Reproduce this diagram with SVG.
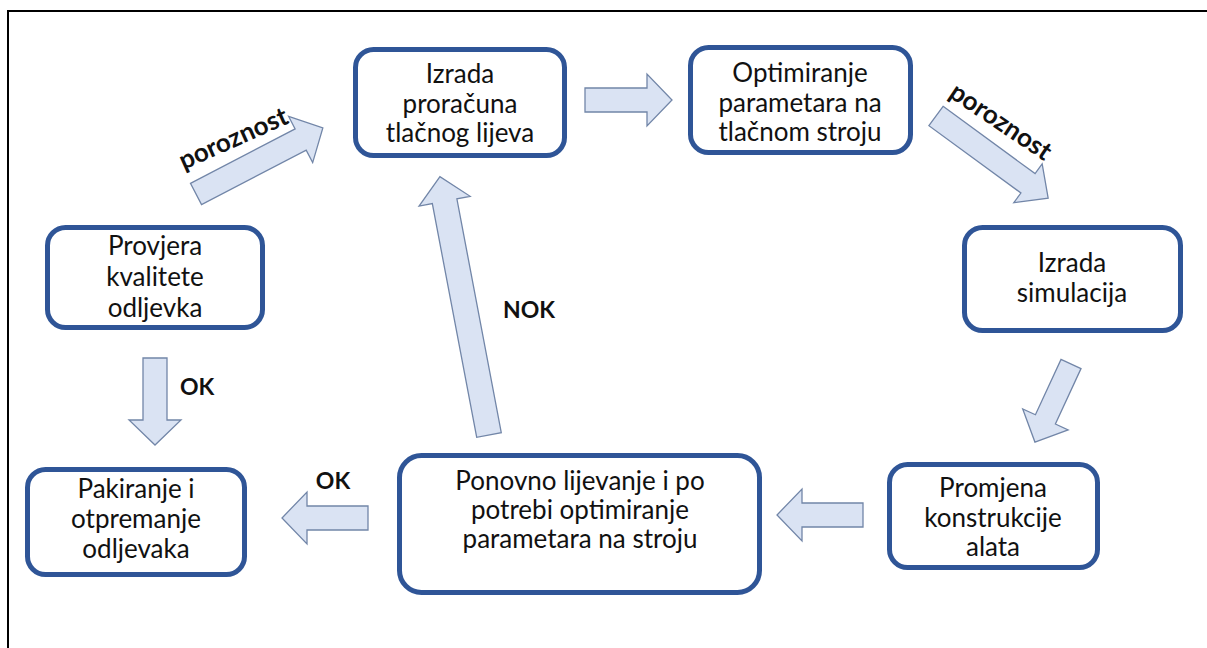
<svg xmlns="http://www.w3.org/2000/svg" width="1207" height="648" viewBox="0 0 1207 648">
<style>
.box{fill:#fff;stroke:#2F5597;stroke-width:5}
.t{font-family:Lato,"Liberation Sans",sans-serif;font-size:26px;fill:#111;text-anchor:middle}
.arr{fill:#DAE3F3;stroke:#7286A8;stroke-width:1.3;stroke-linejoin:miter}
.lb{font-family:Lato,"Liberation Sans",sans-serif;font-weight:bold;font-size:23px;fill:#111}
.pz{font-size:26px}
</style>
<rect x="0" y="0" width="1207" height="648" fill="#fff"/>
<path d="M8,648 V11 H1207" fill="none" stroke="#000" stroke-width="2"/>
<g id="connectors">
<polygon class="arr" points="0,-12 118,-12 118,-26 143,0 118,26 118,12 0,12" transform="translate(196,194) rotate(-27.5)"/>
<path class="arr" d="M585,88 H647 V74 L672,100 L647,126 V112 H585 Z"/>
<polygon class="arr" points="0,-12 114,-12 114,-24 139,0 114,24 114,12 0,12" transform="translate(936,116) rotate(36.2)"/>
<polygon class="arr" points="0,-11 61,-11 61,-25 86,0 61,25 61,11 0,11" transform="translate(1071,364) rotate(114.8)"/>
<path class="arr" d="M863,503 H802 V489 L777,515 L802,541 V527 H863 Z"/>
<path class="arr" d="M368,506 H307 V492 L282,518 L307,544 V530 H368 Z"/>
<path class="arr" d="M143,358 V420 H129 L155,445 L181,420 H167 V358 Z"/>
<polygon class="arr" points="0,-12.5 238,-12.5 238,-26 263,0 238,26 238,12.5 0,12.5" transform="translate(489,435) rotate(-100.75)"/>
<text class="lb pz" transform="translate(234,140) rotate(-24)" x="0" y="7" text-anchor="middle">poroznost</text>
<text class="lb pz" transform="translate(1000,123) rotate(34)" x="0" y="7" text-anchor="middle">poroznost</text>
<text class="lb" x="180" y="395">OK</text>
<text class="lb" x="333" y="489" text-anchor="middle">OK</text>
<text class="lb" x="503" y="318">NOK</text>
</g>
<g id="n1">
<rect class="box" x="355.5" y="49.5" width="209" height="106" rx="18"/>
<text class="t" x="460" y="83">Izrada</text>
<text class="t" x="460" y="113">proračuna</text>
<text class="t" x="460" y="142">tlačnog lijeva</text>
</g>
<g id="n2">
<rect class="box" x="690.5" y="47.5" width="220" height="105" rx="18"/>
<text class="t" x="800" y="82">Optimiranje</text>
<text class="t" x="800" y="112">parametara na</text>
<text class="t" x="800" y="141">tlačnom stroju</text>
</g>
<g id="n3">
<rect class="box" x="964.5" y="227.5" width="216" height="103" rx="18"/>
<text class="t" x="1072" y="272">Izrada</text>
<text class="t" x="1072" y="302">simulacija</text>
</g>
<g id="n4">
<rect class="box" x="889.5" y="464.5" width="208" height="103" rx="18"/>
<text class="t" x="993" y="497">Promjena</text>
<text class="t" x="993" y="527">konstrukcije</text>
<text class="t" x="993" y="556">alata</text>
</g>
<g id="n5">
<rect class="box" x="399.5" y="455.5" width="360" height="137" rx="22"/>
<text class="t" x="580" y="490">Ponovno lijevanje i po</text>
<text class="t" x="580" y="519">potrebi optimiranje</text>
<text class="t" x="580" y="548">parametara na stroju</text>
</g>
<g id="n6">
<rect class="box" x="27.5" y="469.5" width="217" height="105" rx="18"/>
<text class="t" x="136" y="498">Pakiranje i</text>
<text class="t" x="136" y="528">otpremanje</text>
<text class="t" x="136" y="558">odljevaka</text>
</g>
<g id="n7">
<rect class="box" x="47.5" y="227.5" width="215" height="100" rx="18"/>
<text class="t" x="155" y="255">Provjera</text>
<text class="t" x="155" y="286">kvalitete</text>
<text class="t" x="155" y="317">odljevka</text>
</g>
</svg>
